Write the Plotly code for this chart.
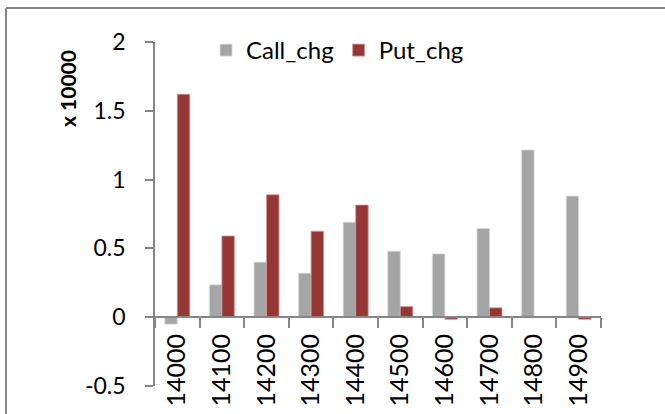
import plotly.graph_objects as go

strikes = ["14000", "14100", "14200", "14300", "14400", "14500", "14600", "14700", "14800", "14900"]
call_chg = [-0.05, 0.235, 0.40, 0.32, 0.69, 0.48, 0.46, 0.645, 1.215, 0.88]
put_chg = [1.62, 0.59, 0.89, 0.625, 0.815, 0.077, -0.015, 0.068, 0.0, -0.015]
y_ticks = [-0.5, 0, 0.5, 1, 1.5, 2]
y_tick_text = ["-0.5", "0", "0.5", "1", "1.5", "2"]

FONT = "Lato"
W, H = 665, 414
L, R, T, B = 155, 64, 42, 28
pw, ph = W - L - R, H - T - B

def px_x(x):
    return (x - L) / pw

def px_y(y):
    return (H - B - y) / ph

fig = go.Figure()
fig.add_trace(go.Bar(x=strikes, y=call_chg, name="Call_chg",
                     marker=dict(color="#A5A5A5", line=dict(color="#D9D9D9", width=0.8))))
fig.add_trace(go.Bar(x=strikes, y=put_chg, name="Put_chg",
                     marker=dict(color="#953735", line=dict(color="#D99694", width=0.8))))

fig.update_layout(
    width=W, height=H,
    margin=dict(l=L, r=R, t=T, b=B, pad=0, autoexpand=False),
    paper_bgcolor="white", plot_bgcolor="white",
    barmode="group", bargap=0.44, bargroupgap=0,
    font=dict(family=FONT, color="#000000"),
    legend=dict(orientation="h", x=px_x(206), y=px_y(28), xanchor="left", yanchor="top",
                font=dict(size=24, family=FONT), bgcolor="rgba(0,0,0,0)",
                itemwidth=30, traceorder="normal"),
    showlegend=True,
)
fig.update_yaxes(range=[-0.5, 2], tickvals=y_ticks, ticktext=y_tick_text, automargin=False,
                 showgrid=False, zeroline=False, showline=True, linecolor="#868686", linewidth=1.5,
                 ticks="outside", ticklen=8, tickcolor="#868686", tickwidth=1.5,
                 tickfont=dict(size=23, family=FONT), ticklabelstandoff=15)
fig.update_xaxes(type="category", anchor="free", position=0.2, automargin=False,
                 showgrid=False, showline=True, linecolor="#868686", linewidth=1.5,
                 ticks="outside", tickson="boundaries", ticklen=10, tickcolor="#868686", tickwidth=1.5,
                 tickangle=-90, tickfont=dict(size=25, family=FONT), ticklabelstandoff=6)

fig.add_annotation(text="<b>x 10000</b>", xref="paper", yref="paper",
                   x=px_x(67), y=px_y(89), xanchor="center", yanchor="middle",
                   textangle=-90, showarrow=False,
                   font=dict(size=21, family=FONT, color="#000000"))

# outer chart frame (only its top and left edges fall inside the picture)
fig.add_shape(type="line", xref="paper", yref="paper",
              x0=px_x(6), x1=px_x(W + 20), y0=px_y(8), y1=px_y(8),
              line=dict(color="#868686", width=2), layer="below")
fig.add_shape(type="line", xref="paper", yref="paper",
              x0=px_x(6), x1=px_x(6), y0=px_y(8), y1=px_y(H + 20),
              line=dict(color="#868686", width=2), layer="below")

css_js = (
    "var s=document.createElement('style');"
    "s.textContent='html,body{margin:0;padding:0;overflow:hidden;scrollbar-width:none;}"
    "::-webkit-scrollbar{display:none;width:0;height:0;}';"
    "document.head.appendChild(s);"
)
fig.write_html("out.html", config={"displayModeBar": False}, post_script=css_js)
